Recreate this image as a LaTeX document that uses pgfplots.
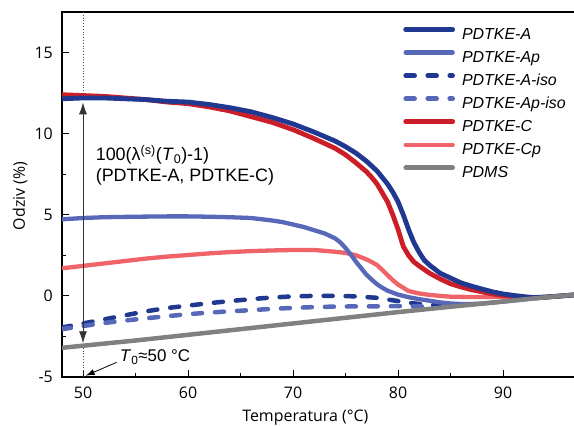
\documentclass[border=0pt]{standalone}
\usepackage{pgfplots}
\pgfplotsset{compat=1.18}
\usepackage{fontspec}
\setmainfont{Liberation Sans}
\newfontfamily\tickfont{Open Sans}
\usetikzlibrary{arrows.meta}

\definecolor{colA}{RGB}{33,56,145}
\definecolor{colAp}{RGB}{88,104,184}
\definecolor{colC}{RGB}{204,30,40}
\definecolor{colCp}{RGB}{240,100,105}
\definecolor{colPD}{RGB}{128,128,128}

\pgfplotsset{
  stA/.style={colA, line width=4.8bp, line cap=round, line join=round},
  stAp/.style={colAp, line width=4.3bp, line cap=round, line join=round},
  stAiso/.style={colA, line width=4.5bp, line cap=round, dash pattern=on 9bp off 13bp},
  stApiso/.style={colAp, line width=4.5bp, line cap=round, dash pattern=on 9bp off 13bp},
  stC/.style={colC, line width=4.8bp, line cap=round, line join=round},
  stCp/.style={colCp, line width=4.3bp, line cap=round, line join=round},
  stPD/.style={colPD, line width=4.5bp, line cap=round, line join=round},
}

\begin{document}
\begin{tikzpicture}
\path[use as bounding box] (-62bp,-49bp) rectangle (512bp,377bp);
\begin{axis}[
    at={(0,0)}, anchor=south west,
    scale only axis,
    width=513.5bp, height=365bp,
    xmin=48, xmax=96.9,
    ymin=-5, ymax=17.5,
    xtick={50,60,70,80,90},
    ytick={-5,0,5,10,15},
    minor x tick num=1,
    minor y tick num=1,
    tick pos=left,
    tick align=inside,
    major tick length=6.5bp,
    minor tick length=4bp,
    every tick/.style={black, line width=1bp},
    axis line style={line width=1.1bp},
    /pgf/number format/assume math mode=true,
    ticklabel style={font=\tickfont\fontsize{16}{16}\selectfont, inner sep=0pt},
    xticklabel style={yshift=-10bp},
    yticklabel style={xshift=-9bp},
    xlabel={Temperatura (°C)},
    ylabel={Odziv (\%)},
    label style={font=\tickfont\fontsize{16}{16}\selectfont},
    xlabel style={at={(axis description cs:0.474,-0.1123)}, anchor=center},
    ylabel style={at={(axis description cs:-0.0818,0.496)}, anchor=center},
    legend style={draw=none, fill=none, inner sep=0pt, outer sep=0pt,
        at={(axis cs:80.5,16.56)}, anchor=north west,
        font=\fontsize{16}{19}\selectfont\itshape,
        nodes={inner sep=0pt, text height=12bp, text depth=4bp},
        row sep=7bp,
        /tikz/every odd column/.append style={column sep=7bp}},
    legend cell align=left,
    legend image code/.code={\draw[#1] (0bp,5.7bp) -- (47bp,5.7bp);},
]

% T0 markers
\draw[dotted, line width=0.8bp, black!70] (axis cs:50,17.5) -- (axis cs:50,12.4);
\draw[dotted, line width=0.8bp, black!70] (axis cs:50,-3.2) -- (axis cs:50,-5);

% PDTKE-A-iso
\addplot[stAiso, forget plot] coordinates {
 (48,-1.95) (50,-1.7) (52,-1.45) (54,-1.2) (56,-0.95) (58,-0.75) (60,-0.6)
 (62,-0.45) (64,-0.32) (66,-0.2) (68,-0.1) (70,-0.03) (72,0.0) (74,0.0)
 (76,-0.03) (78,-0.12) (79,-0.22) (80,-0.32) (81,-0.42) (82,-0.5) (83,-0.55) (84,-0.6)
};
% PDTKE-Ap-iso
\addplot[stApiso, forget plot] coordinates {
 (48,-2.05) (50,-1.86) (52,-1.67) (54,-1.52) (56,-1.38) (58,-1.25) (60,-1.13)
 (62,-1.03) (64,-0.95) (66,-0.88) (68,-0.8) (70,-0.74) (72,-0.69) (74,-0.66)
 (76,-0.65) (78,-0.64) (80,-0.63) (82,-0.65) (83,-0.67)
};
% PDTKE-Cp
\addplot[stCp, forget plot] coordinates {
 (48,1.7) (50,1.85) (52,2.0) (54,2.15) (56,2.3) (58,2.42) (60,2.52) (62,2.62)
 (64,2.7) (66,2.76) (68,2.8) (70,2.83) (72,2.83) (73.5,2.75) (75,2.65) (76,2.5)
 (77,2.25) (77.6,2.05) (78,1.9) (78.5,1.6) (79,1.28) (79.5,0.97) (80,0.7)
 (80.5,0.5) (81,0.3) (82,0.15) (83,0.06) (84,0.0) (85,-0.05) (86,-0.06)
 (87,-0.07) (88,-0.07) (89,-0.06) (90,-0.05) (91,-0.05)
};
% PDTKE-Ap
\addplot[stAp, forget plot] coordinates {
 (48,4.72) (50,4.8) (52,4.85) (55,4.88) (58,4.9) (60,4.9) (62,4.88) (64,4.85)
 (66,4.8) (68,4.65) (69,4.55) (70,4.4) (71,4.25) (72,4.05) (73,3.85) (74,3.55)
 (74.5,3.3) (75,2.95) (75.5,2.55) (76,2.1) (76.5,1.7) (77,1.3) (77.5,1.0)
 (78,0.72) (78.5,0.5) (79,0.32) (80,0.08) (81,-0.08) (82,-0.2) (83,-0.3)
 (84,-0.4) (85,-0.47) (86,-0.5) (87,-0.5) (88,-0.47) (90,-0.35) (93,-0.15) (97,0.08)
};
% PDTKE-C
\addplot[stC, forget plot] coordinates {
 (48,12.4) (50,12.35) (52,12.3) (54,12.2) (56,12.1) (58,11.95) (60,11.85)
 (62,11.65) (64,11.4) (66,11.05) (68,10.7) (70,10.25) (72,9.7) (74,9.1)
 (75,8.7) (76,8.2) (77,7.65) (77.5,7.3) (78,6.9) (78.5,6.35) (79,5.8)
 (79.5,5.0) (80,4.1) (80.5,3.05) (81,2.5) (81.5,2.1) (82,1.85) (83,1.4)
 (84,1.05) (85,0.75) (86,0.55) (87,0.38) (88,0.25) (89,0.12) (90,0.03)
 (91,-0.04) (92,-0.09) (93,-0.12) (94,-0.08) (95,-0.03) (96,0.02) (97,0.07)
};
% PDTKE-A
\addplot[stA, forget plot] coordinates {
 (48,12.15) (50,12.2) (52,12.2) (54,12.15) (56,12.1) (58,12.0) (60,11.95)
 (62,11.8) (64,11.6) (66,11.35) (68,11.0) (70,10.6) (72,10.1) (74,9.55)
 (75,9.2) (76,8.8) (77,8.3) (78,7.7) (79,6.9) (79.5,6.4) (80,5.8) (80.5,5.0)
 (81,4.1) (81.5,3.3) (82,2.7) (82.5,2.2) (83,1.9) (84,1.4) (85,1.1) (86,0.8)
 (87,0.6) (88,0.42) (89,0.25) (90,0.12) (91,0.03) (92,-0.05) (93,-0.1)
 (94,-0.07) (95,-0.03) (96,0.02) (97,0.07)
};
% PDMS
\addplot[stPD, forget plot] coordinates {
 (48,-3.2) (55,-2.75) (60,-2.4) (65,-2.05) (70,-1.7) (75,-1.35) (80,-1.0)
 (85,-0.67) (90,-0.35) (93,-0.15) (97,0.08)
};

\addlegendimage{stA}
\addlegendimage{stAp}
\addlegendimage{stAiso}
\addlegendimage{stApiso}
\addlegendimage{stC}
\addlegendimage{stCp}
\addlegendimage{stPD}
\legend{PDTKE-A, PDTKE-Ap, PDTKE-A-iso, PDTKE-Ap-iso, PDTKE-C, PDTKE-Cp, PDMS}

% annotations
\draw[{Latex[length=12bp,width=8bp]}-{Latex[length=12bp,width=8bp]}, line width=0.8bp, black!80]
  (axis cs:50,11.93) -- (axis cs:50,-2.92);
\node[anchor=west, align=left, inner sep=0pt, font=\fontsize{18}{21}\selectfont]
  at (axis cs:51.2,8.05) {100(λ\textsuperscript{(s)}(\textit{T}\textsubscript{0})-1)\\(PDTKE-A, PDTKE-C)};
\node[anchor=west, inner sep=0pt, font=\fontsize{17}{17}\selectfont]
  at (axis cs:53.5,-3.77) {\textit{T}\textsubscript{0}≈50 °C};
\draw[-{Latex[length=9bp,width=6bp]}, line width=0.8bp, black]
  (axis cs:53.2,-4.1) -- (axis cs:50.25,-4.92);
\end{axis}
\end{tikzpicture}
\end{document}
